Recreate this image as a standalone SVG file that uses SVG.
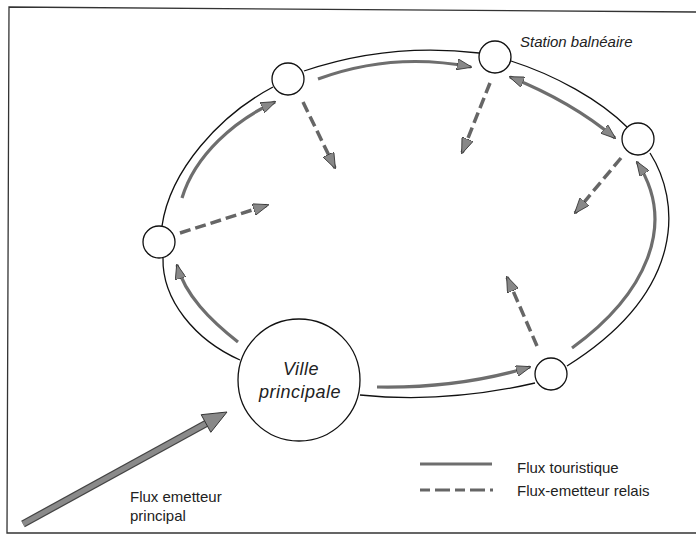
<svg xmlns="http://www.w3.org/2000/svg" width="696" height="536" viewBox="0 0 696 536">
<style>
.frame{fill:none;stroke:#333;stroke-width:1.3}
.ring{fill:none;stroke:#111;stroke-width:1.3}
.flux{fill:none;stroke:#6e6e6e;stroke-width:3.2}
.relay{fill:none;stroke:#666;stroke-width:3.5;stroke-dasharray:11 5}
.node{fill:#fff;stroke:#111;stroke-width:1.3}
.lbl{font-family:"Liberation Sans",Arial,sans-serif;fill:#222}
.it{font-style:italic}
</style>
<defs>
<marker id="ah" markerUnits="userSpaceOnUse" markerWidth="15" markerHeight="11" refX="14" refY="5.5" orient="auto-start-reverse" viewBox="0 0 15 11">
<path d="M0,0 L15,5.5 L0,11 z" fill="#888" stroke="#333" stroke-width="0.8"/>
</marker>
<marker id="dh" markerUnits="userSpaceOnUse" markerWidth="16" markerHeight="12" refX="15" refY="6" orient="auto" viewBox="0 0 16 12">
<path d="M0,0 L16,6 L0,12 z" fill="#888" stroke="#333" stroke-width="0.8"/>
</marker>
</defs>
<rect width="696" height="536" fill="#fff"/>
<path class="frame" d="M696,12 L9,7 L7,533 L696,533"/>
<g id="connectors">
<path class="ring" d="M240,360 C195,340 162,300 163,258"/>
<path class="ring" d="M162,226 C170,170 220,115 273,87"/>
<path class="ring" d="M304,71 C360,52 420,46 479,53"/>
<path class="ring" d="M511,61 C555,75 600,100 627,127"/>
<path class="ring" d="M650,153 C680,200 688,290 567,366"/>
<path class="ring" d="M535,383 C470,398 410,400 360,395"/>
<path class="flux" marker-end="url(#ah)" d="M238,342 C210,320 185,295 177,265"/>
<path class="flux" marker-end="url(#ah)" d="M182,198 C195,155 235,120 275,102"/>
<path class="flux" marker-end="url(#ah)" d="M318,79 C370,60 420,57 471,67"/>
<path class="flux" marker-start="url(#ah)" marker-end="url(#ah)" d="M510,77 C550,93 585,113 615,138"/>
<path class="flux" marker-end="url(#ah)" d="M572,348 C645,295 678,225 637,162"/>
<path class="flux" marker-end="url(#ah)" d="M377,387 C430,388 480,382 530,367"/>
<path class="relay" marker-end="url(#dh)" d="M303,102 L335,168"/>
<path class="relay" marker-end="url(#dh)" d="M490,83 L462,153"/>
<path class="relay" marker-end="url(#dh)" d="M621,158 L575,213"/>
<path class="relay" marker-end="url(#dh)" d="M180,233 L268,205"/>
<path class="relay" marker-end="url(#dh)" d="M537,346 L507,277"/>
<g id="main-flow">
<path d="M23,524 L207,423" fill="none" stroke="#444" stroke-width="7.5"/>
<path d="M23,524 L207,423" fill="none" stroke="#8a8a8a" stroke-width="5"/>
<polygon points="227,412 210.8,432.3 201.2,414.7" fill="#888" stroke="#333" stroke-width="1"/>
</g>
</g>
<g id="ville">
<circle class="node" cx="299" cy="380" r="61"/>
<text class="lbl it" x="301" y="375" font-size="18" text-anchor="middle" letter-spacing="0.5">Ville</text>
<text class="lbl it" x="300" y="398" font-size="18" text-anchor="middle" letter-spacing="0.5">principale</text>
</g>
<g id="node-left"><circle class="node" cx="159" cy="242" r="16"/></g>
<g id="node-topleft"><circle class="node" cx="288" cy="79" r="16"/></g>
<g id="node-station">
<circle class="node" cx="495" cy="57" r="16"/>
<text class="lbl it" x="520" y="47" font-size="15">Station balnéaire</text>
</g>
<g id="node-right"><circle class="node" cx="638" cy="139" r="16"/></g>
<g id="node-bottomright"><circle class="node" cx="551" cy="374" r="16"/></g>
<g id="flux-label">
<text class="lbl" x="130" y="502" font-size="15">Flux emetteur</text>
<text class="lbl" x="130" y="521" font-size="15">principal</text>
</g>
<g id="legend">
<line x1="420" y1="464" x2="492" y2="464" stroke="#6e6e6e" stroke-width="3"/>
<line x1="420" y1="490" x2="493" y2="490" stroke="#666" stroke-width="3" stroke-dasharray="10 5 15 5"/>
<text class="lbl" x="517" y="473" font-size="15">Flux touristique</text>
<text class="lbl" x="517" y="496" font-size="15">Flux-emetteur relais</text>
</g>
</svg>
